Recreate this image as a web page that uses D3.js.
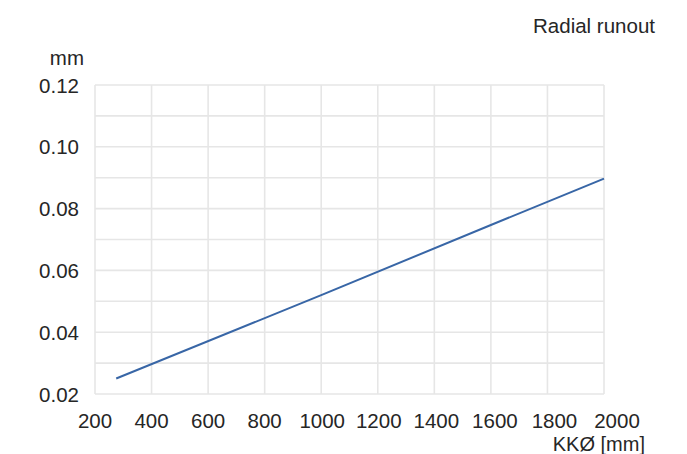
<!DOCTYPE html>
<html>
<head>
<meta charset="utf-8">
<script src="https://cdn.jsdelivr.net/npm/d3@7"></script>
<style>
  body { margin: 0; background: #fff; }
  text { font-family: "Liberation Sans", Arial, sans-serif; fill: #262626; }
</style>
</head>
<body>
<div id="canvas"></div>
<script>
(function(){

    // KK diameter [mm] vs radial runout [mm]
    var diameters = [275, 1000, 1600, 2000];
    var runout    = [0.025, 0.052, 0.0747, 0.0897];

    var xTicks = [200, 400, 600, 800, 1000, 1200, 1400, 1600, 1800, 2000];
    var yTicks = [0.02, 0.04, 0.06, 0.08, 0.10, 0.12];
    var yGrid  = [0.02, 0.03, 0.04, 0.05, 0.06, 0.07, 0.08, 0.09, 0.10, 0.11, 0.12];

    // label nudges seen in the original layout
    var xLabelShift = [0, 0, 0, 0, 1, 1, 2, 4, 7, 13];

    var width = 687, height = 454;
    var left = 95, right = 604, top = 85, bottom = 394;

    var svg = d3.select("#canvas")
                .append("svg")
                .attr("width", width)
                .attr("height", height);

    var x = d3.scaleLinear().domain([200, 2000]).range([left, right]);
    var y = d3.scaleLinear().domain([0.02, 0.12]).range([bottom, top]);

    // grid
    svg.selectAll("line.vg")
       .data(xTicks)
       .enter().append("line")
       .attr("class", "vg")
       .attr("x1", function(d){ return x(d); })
       .attr("x2", function(d){ return x(d); })
       .attr("y1", top)
       .attr("y2", bottom)
       .attr("stroke", "#e6e6e6")
       .attr("stroke-width", 1.6);

    svg.selectAll("line.hg")
       .data(yGrid)
       .enter().append("line")
       .attr("class", "hg")
       .attr("x1", left)
       .attr("x2", right)
       .attr("y1", function(d){ return y(d); })
       .attr("y2", function(d){ return y(d); })
       .attr("stroke", "#e6e6e6")
       .attr("stroke-width", 1.6);

    // tick labels
    svg.selectAll("text.xl")
       .data(xTicks)
       .enter().append("text")
       .attr("class", "xl")
       .attr("x", function(d, i){ return x(d) + xLabelShift[i]; })
       .attr("y", 428)
       .attr("text-anchor", "middle")
       .attr("font-size", 20.5)
       .text(function(d){ return d; });

    svg.selectAll("text.yl")
       .data(yTicks)
       .enter().append("text")
       .attr("class", "yl")
       .attr("x", 79)
       .attr("y", function(d){ return y(d) + 7.5; })
       .attr("text-anchor", "end")
       .attr("font-size", 20.5)
       .text(function(d){ return d.toFixed(2); });

    // the line
    var pts = diameters.map(function(d, i){ return [d, runout[i]]; });
    svg.append("path")
       .datum(pts)
       .attr("d", d3.line()
                    .x(function(d){ return x(d[0]); })
                    .y(function(d){ return y(d[1]); }))
       .attr("fill", "none")
       .attr("stroke", "#3866a6")
       .attr("stroke-width", 2);

    // titles
    svg.append("text")
       .attr("x", 84).attr("y", 65)
       .attr("text-anchor", "end")
       .attr("font-size", 20.5)
       .text("mm");

    svg.append("text")
       .attr("x", 655).attr("y", 33)
       .attr("text-anchor", "end")
       .attr("font-size", 20.5)
       .text("Radial runout");

    svg.append("text")
       .attr("x", 645).attr("y", 451)
       .attr("text-anchor", "end")
       .attr("font-size", 20)
       .text("KKØ [mm]");

})();
</script>
</body>
</html>
